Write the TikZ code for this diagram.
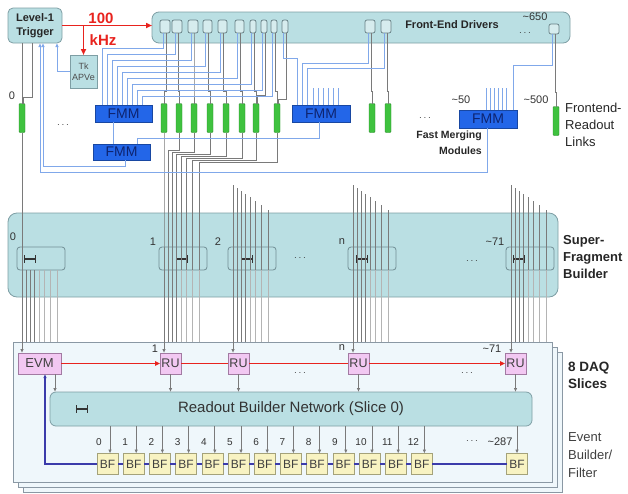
\documentclass[tikz,border=0pt]{standalone}
\usepackage{fontspec}
\setmainfont{Liberation Sans}
\usetikzlibrary{arrows.meta}
\newcommand\fsz[2]{\fontsize{#1}{#2}\selectfont}
\definecolor{teal1}{HTML}{BADFE3}
\definecolor{tealbd}{HTML}{7E9EA4}
\definecolor{fmmblue}{HTML}{2366E8}
\definecolor{fmmtext}{HTML}{0E2470}
\definecolor{grn}{HTML}{3FC23F}
\definecolor{grnbd}{HTML}{2D8A2D}
\definecolor{bline}{HTML}{80A8EA}
\definecolor{gline}{HTML}{7A7A7A}
\definecolor{lgline}{HTML}{B4B4B4}
\definecolor{redl}{HTML}{E8231E}
\definecolor{pinkf}{HTML}{F2C8F2}
\definecolor{pinkbd}{HTML}{A27AA2}
\definecolor{bff}{HTML}{F8F3C2}
\definecolor{bfbd}{HTML}{A4A27A}
\definecolor{navyl}{HTML}{3B3BAA}
\definecolor{slicef}{HTML}{EFF7FB}
\definecolor{slicebd}{HTML}{8A98A4}
\tikzset{
 bx/.style={draw=tealbd, fill=teal1, rounded corners=5pt, line width=0.8pt, inner sep=0pt, outer sep=0pt, anchor=north west},
 port/.style={draw=tealbd!80!black, fill=teal1!60!white, rounded corners=2pt, line width=0.7pt, inner sep=0pt, outer sep=0pt, anchor=north west, minimum height=13pt},
 fmm/.style={draw=fmmblue!70!black, fill=fmmblue, inner sep=0pt, outer sep=0pt, anchor=north west, text=fmmtext, font=\fsz{14}{14}},
 glink/.style={draw=grnbd, fill=grn, rounded corners=1pt, minimum width=6pt, minimum height=29pt, inner sep=0pt, outer sep=0pt},
 sunit/.style={draw=tealbd!90!black, fill=teal1, rounded corners=3pt, minimum width=48pt, minimum height=23pt, inner sep=0pt, outer sep=0pt, anchor=north west, line width=0.8pt},
 ru/.style={draw=pinkbd, fill=pinkf, inner sep=0pt, outer sep=0pt, anchor=north west, minimum width=21pt, minimum height=21pt, font=\fsz{12.5}{13}, text=black!75},
 bf/.style={draw=bfbd, fill=bff, inner sep=0pt, outer sep=0pt, minimum width=21pt, minimum height=21pt, font=\fsz{12}{12}, text=black!75},
 gl/.style={draw=gline, line width=0.8pt},
 lgl/.style={draw=lgline, line width=0.8pt},
 bl/.style={draw=bline, line width=0.9pt},
 arr/.style={-{Latex[length=4pt,width=3.5pt]}},
 slice/.style={draw=slicebd, fill=slicef, line width=0.8pt},
 lbl/.style={font=\fsz{10}{10}, text=black!80, inner sep=0pt},
 rl/.style={align=left, anchor=west, inner sep=0pt, text=black!85},
 bowtie/.pic={\draw[line width=1.7pt, black!80] (-5.5,0)--(5.5,0) (-5.5,-4)--(-5.5,4) (5.5,-4)--(5.5,4);}
}
\begin{document}
\begin{tikzpicture}[x=1pt,y=-1pt]
\useasboundingbox (0,0) rectangle (628,493);
% ---------- DAQ slices ----------
\draw[slice] (23,352) rectangle (562,492);
\draw[slice] (18,347) rectangle (557,487);
\draw[slice] (13,342) rectangle (552,482);
\node[bx, rounded corners=6pt, minimum width=482pt, minimum height=34pt] (rbn) at (50,392) {};
\node[font=\fsz{15}{15}, text=black!80] (rbnl) at (291,409) {Readout Builder Network (Slice 0)};
\pic at (82,409) {bowtie};
\node[ru, minimum width=43pt, font=\fsz{13}{13}] (evm) at (18,353) {EVM};
\node[ru] (ru1) at (160,353) {RU};
\node[ru] (ru2) at (228,353) {RU};
\node[ru] (run) at (348,353) {RU};
\node[ru] (ru71) at (505,353) {RU};
\draw[redl, line width=1.5pt, -{Triangle[length=5pt,width=4.5pt]}] (evm.east) -- (ru1.west);
\draw[redl, line width=1.5pt] (ru1.east) -- (ru2.west) (ru2.east) -- (run.west);
\draw[redl, line width=1.5pt, -{Triangle[length=5pt,width=4.5pt]}] (run.east) -- (ru71.west);
\draw[gl,arr] (55,374) -- (55,392);
\foreach \r in {ru1,ru2,run,ru71} \draw[gl,arr] (\r.south) -- (\r.south |- rbn.north);
\foreach \k in {0,...,12} {
  \node[bf] (bf\k) at ({107.5+26.2*\k},464) {BF};
  \node[lbl] (bn\k) at ({99+26.2*\k},442) {\k};
  \draw[gl,arr] ({110+26.2*\k},426) -- ({110+26.2*\k},453.5);
}
\node[bf] (bfz) at (517,464) {BF};
\node[lbl, font=\fsz{11}{11}] (bnz) at (500,442) {\textasciitilde287};
\node[lbl] (bdots) at (472,441) {$\cdots$};
\draw[gl,arr] (517,426) -- (bfz.north);
\draw[navyl, line width=1.3pt, arr] (bf0.west) -| (45,374);
\foreach \k [evaluate=\k as \j using int(\k+1)] in {0,...,11} \draw[navyl, line width=1.3pt] (bf\k.east) -- (bf\j.west);
\draw[navyl, line width=1.3pt] (bf12.east) -- (bfz.west);
\node[lbl, font=\fsz{11}{11}] (rl1) at (155,349) {1};
\node[lbl, font=\fsz{11}{11}] (rln) at (342,348) {n};
\node[lbl, font=\fsz{11}{11}] (rl71) at (492,349) {\textasciitilde71};
\node[lbl] (rd1) at (300,373) {$\cdots$};
\node[lbl] (rd2) at (467,373) {$\cdots$};
% ---------- Super-Fragment Builder ----------
\node[bx, rounded corners=9pt, minimum width=550pt, minimum height=84pt] (sfb) at (8,213) {};
\node[sunit] (su0) at (17,247) {};
\node[sunit] (su1) at (159,247) {};
\node[sunit] (su2) at (228,247) {};
\node[sunit] (sun) at (348,247) {};
\node[sunit] (su71) at (506,247) {};
\pic at (30,259) {bowtie};
\pic at (182,259) {bowtie};
\pic at (247,259) {bowtie};
\pic at (362,259) {bowtie};
\pic at (519,259) {bowtie};
% lines below the units
\foreach \ux in {17,159,228,348,506} {
  \foreach \o/\c in {9/gl,13/gl,17/gl,22/lgl,27/lgl,33/lgl,40/lgl}
    \draw[\c] ({\ux+\o},270) -- ({\ux+\o},342);
}
% stubs of units 2, n, ~71
\foreach \ux in {228,348,506} {
  \foreach \o/\t in {9/188,13/191,17/194,22/197,27/201,33/205,40/210}
    \draw[gl] ({\ux+\o},\t) -- ({\ux+\o},270);
  \draw[gl,arr] ({\ux+5},185) -- ({\ux+5},353);
}
% ---------- Front-End Drivers ----------
\node[bx, rounded corners=7pt, minimum width=418pt, minimum height=31pt] (fed) at (152,12) {};
\foreach \x/\w [count=\i] in {160/10,172/10,188/10,203/9,218/9,235/9,250/6,261/6,271/6,282/6,365/10,381/10}
  \node[port, minimum width=\w pt] (p\i) at (\x,20) {};
\node[port, minimum width=10pt, minimum height=10pt] (p13) at (549,24) {};
% trigger
\node[bx, minimum width=54pt, minimum height=35pt, font=\bfseries\fsz{11}{14}, align=center, text=black!85] (trig) at (8,8) {Level-1\\Trigger};
\node[draw=tealbd, fill=teal1, inner sep=0pt, outer sep=0pt, anchor=north west, minimum width=27pt, minimum height=33pt, font=\fsz{9}{11}, align=center, text=black!70] (apve) at (70,55) {Tk\\APVe};
\draw[redl, line width=1.6pt, -{Triangle[length=6pt,width=5pt]}] (trig.east) -- (trig.east -| fed.west);
\draw[redl, line width=1.6pt, -{Triangle[length=6pt,width=5pt]}] (trig.east -| apve.north) -- (apve.north);
% green links
\foreach \x [count=\i from 0] in {22,164,179,194,210,226,242,256,277,372,388}
  \node[glink] (g\i) at (\x,118) {};
\node[glink] (g11) at (556,121) {};
% gray lines: trigger
\draw[gl] ([xshift=14pt]trig.south west) -- (g0.north);
\draw[gl] ([xshift=24pt]trig.south west) -- ++(0,54) -| ([xshift=1pt]g0.north);
\draw[gl,arr] (g0.south) -- (22,353);
% gray lines: ports to links
\foreach \p/\g in {1/1,2/2,3/3,4/4,5/5,6/6,7/7,9/8,11/9,12/10,13/11}
  \draw[gl] ([xshift=1pt]p\p.south) -- ++(0,58) -| (g\g.north);
\draw[gl] ([xshift=1pt]p8.south) -- ++(0,62) -| ([xshift=1pt]g7.north);
\draw[gl] ([xshift=1pt]p10.south) -- ++(0,66) -| ([xshift=1pt]g8.north);
% gray lines: links to super-fragment 1
\draw[gl,arr] (g1.south) |- (164,148) -- (164,353);
\foreach \g/\tx/\jy in {2/168/150,3/172/152,4/176/154,5/181/156,6/186/158,7/192/160,8/199/162}
  \draw[gl] (g\g.south) |- (\tx,\jy) -- (\tx,270);
% ---------- FMMs and blue lines ----------
\node[fmm, minimum width=57pt, minimum height=17pt] (fmm1) at (95,105) {FMM};
\node[fmm, minimum width=57pt, minimum height=16pt] (fmm2) at (93,144) {FMM};
\node[fmm, minimum width=58pt, minimum height=17pt] (fmm3) at (292,105) {FMM};
\node[fmm, minimum width=58pt, minimum height=18pt] (fmm4) at (459,110) {FMM};
\foreach \k/\o/\yy in {1/7/48,2/12/54,3/17/60,4/22/66,5/27/72,6/32/78,7/37/84,8/42/90,9/47/96}
  \draw[bl] ([xshift=\o pt]fmm1.north west) -- ({95+\o},\yy) -| ([xshift=-2pt]p\k.south);
\draw[bl] ([xshift=5pt]fmm3.north west) -- (297,58) -| ([xshift=-2pt]p10.south);
\draw[bl] ([xshift=10pt]fmm3.north west) -- (302,63) -| ([xshift=-2pt]p11.south);
\draw[bl] ([xshift=15pt]fmm3.north west) -- (307,68) -| ([xshift=-2pt]p12.south);
\foreach \s in {21,26,31,36,41,46} \draw[bl, line width=0.6pt] ([xshift=\s pt]fmm3.north west) -- ++(0,-17);
\foreach \s in {27,31,35,39,43,47} \draw[bl, line width=0.6pt] ([xshift=\s pt]fmm4.north west) -- ++(0,-22);
\draw[bl] ([xshift=54pt]fmm4.north west) -- (513,65) -| ([xshift=-2pt]p13.south);
\draw[bl] ([xshift=18pt]fmm1.south west) -- ([xshift=20pt]fmm2.north west);
\draw[bl] ([xshift=44pt]fmm2.north west) -- ++(0,-6) -| ([xshift=27pt]fmm3.south west);
\draw[bl,arr] (apve.west) -| ([xshift=49pt]trig.south west);
\draw[bl,arr] ([xshift=32pt]fmm2.south west) -- ++(0,6) -| ([xshift=35pt]trig.south west);
\draw[bl,arr] ([xshift=28pt]fmm4.south west) -- (487,172) -| ([xshift=32pt]trig.south west);
% ---------- labels ----------
\node[text=redl, font=\bfseries\fsz{15}{15}] (f100) at (101,18) {100};
\node[text=redl, font=\bfseries\fsz{15}{15}] (fkhz) at (103,40) {kHz};
\node[lbl, font=\fsz{11}{11}] (l0t) at (12,96) {0};
\node[lbl] (ldl) at (63,125) {$\cdots$};
\node[font=\bfseries\fsz{11}{11}, text=black!85] (fedl) at (452,25) {Front-End Drivers};
\node[lbl, font=\fsz{11}{11}] (l650) at (535,17) {\textasciitilde650};
\node[lbl] (d650) at (525,33) {$\cdots$};
\node[lbl, font=\fsz{11}{11}] (l50) at (461,100) {\textasciitilde50};
\node[lbl, font=\fsz{11}{11}] (l500) at (536,100) {\textasciitilde500};
\node[lbl] (dfmm) at (425,118) {$\cdots$};
\node[font=\bfseries\fsz{10.5}{16}, align=right, anchor=north east, inner sep=0pt, text=black!85] (fmml) at (482,131) {Fast Merging\\Modules};
\node[rl, font=\fsz{13}{17}] (frl) at (565,125) {Frontend-\\Readout\\Links};
\node[lbl, font=\fsz{11}{11}] (s0) at (13,237) {0};
\node[lbl, font=\fsz{11}{11}] (s1) at (153,242) {1};
\node[lbl, font=\fsz{11}{11}] (s2) at (218,242) {2};
\node[lbl, font=\fsz{11}{11}] (sn) at (342,242) {n};
\node[lbl, font=\fsz{11}{11}] (s71) at (495,242) {\textasciitilde71};
\node[lbl] (sd1) at (300,258) {$\cdots$};
\node[lbl] (sd2) at (472,261) {$\cdots$};
\node[rl, font=\bfseries\fsz{13}{17}] (sfbl) at (563,257) {Super-\\Fragment\\Builder};
\node[rl, font=\bfseries\fsz{13.5}{17}] (daql) at (568,375) {8 DAQ\\Slices};
\node[rl, font=\fsz{13}{18}, text=black!75] (ebl) at (568,455) {Event\\Builder/\\Filter};
\end{tikzpicture}
\end{document}
